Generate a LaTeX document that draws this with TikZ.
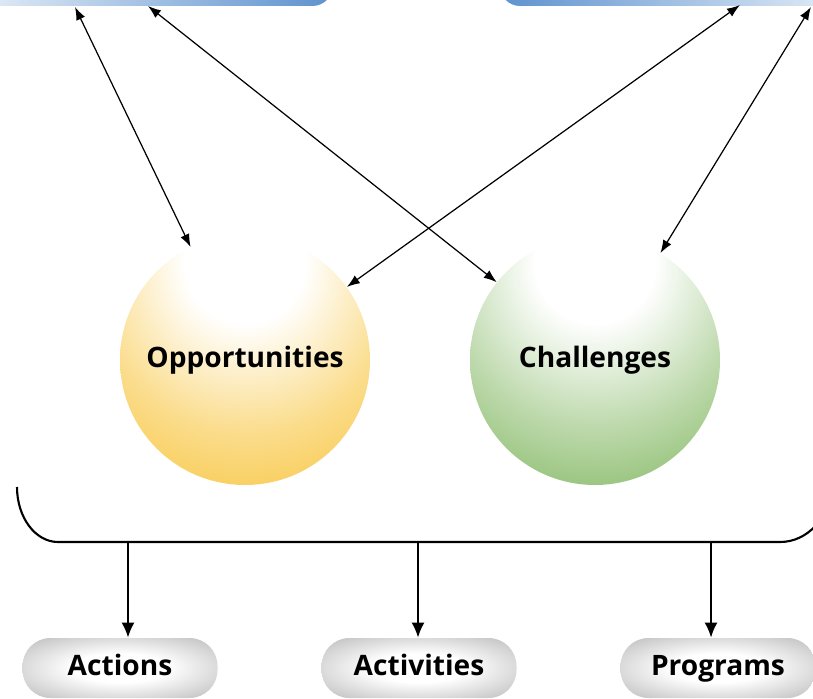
\documentclass[tikz,border=0pt]{standalone}
\usepackage{fontspec}
\setmainfont{Open Sans}
\usetikzlibrary{arrows.meta}
\definecolor{oppyellow}{HTML}{F7C02E}
\definecolor{chalgreen}{HTML}{74AF50}
\definecolor{boxblue}{HTML}{5E92CE}
\definecolor{boxlight}{HTML}{E2ECF7}
\definecolor{pillgray}{HTML}{A4A4A4}
\colorlet{oppmid}{oppyellow!55!white}
\colorlet{chalmid}{chalgreen!50!white}
\pgfdeclareradialshading{oppshade}{\pgfpoint{0bp}{22bp}}{color(0bp)=(white); color(12bp)=(white); color(30bp)=(oppmid); color(50bp)=(oppyellow); color(100bp)=(oppyellow)}
\pgfdeclareradialshading{chalshade}{\pgfpoint{0bp}{22bp}}{color(0bp)=(white); color(12bp)=(white); color(30bp)=(chalmid); color(50bp)=(chalgreen); color(100bp)=(chalgreen)}
\pgfdeclareradialshading{pillshade}{\pgfpoint{0bp}{0bp}}{color(0bp)=(white); color(12bp)=(white); color(44bp)=(pillgray); color(80bp)=(pillgray)}
\tikzset{
  topbox/.style={rounded corners=0.4cm, minimum height=1.32cm, inner sep=0pt},
  bubble/.style={circle, minimum size=5cm, inner sep=0pt, shade, font=\fontsize{16}{19}\selectfont\bfseries},
  pill/.style={rounded corners=0.56cm, minimum width=3.9cm, minimum height=1.2cm, inner sep=0pt, text height=12pt, text depth=4pt, shade, shading=pillshade, font=\fontsize{16}{19}\selectfont\bfseries},
  biarrow/.style={<->, >={Latex[length=2.6mm,width=1.9mm]}, line width=0.7pt},
  downarrow/.style={->, >={Latex[length=3mm,width=2.6mm]}, line width=1.1pt}
}
\begin{document}
\begin{tikzpicture}
    \useasboundingbox (0,0) rectangle (16.26,13.96);
    \clip (0,0) rectangle (16.26,13.96);
    \node[topbox, minimum width=7.06cm, left color=boxlight, right color=boxblue] (lbox) at (3.12,14.5) {};
    \node[topbox, minimum width=6.8cm, left color=boxblue, right color=boxlight] (rbox) at (13.4,14.5) {};
    \coordinate (l1) at (1.5,13.82);
    \coordinate (l2) at (2.96,13.84);
    \coordinate (r1) at (14.8,13.86);
    \coordinate (r2) at (16.22,13.82);
    \node[bubble, shading=oppshade] (opp) at (4.9,6.76) {Opportunities};
    \node[bubble, shading=chalshade] (chal) at (11.9,6.76) {Challenges};
    \draw[biarrow] (l1) -- (opp);
    \draw[biarrow] (l2) -- (chal);
    \draw[biarrow] (r1) -- (opp);
    \draw[biarrow] (r2) -- (chal);
    \draw[line width=1.2pt] (0.34,4.22) arc[start angle=180, end angle=270, x radius=0.82, y radius=1.1]
        -- (15.6,3.12) arc[start angle=270, end angle=360, x radius=1, y radius=1.1];
    \coordinate (b1) at (2.56,3.12);
    \coordinate (b2) at (8.36,3.12);
    \coordinate (b3) at (14.22,3.12);
    \node[pill] (act) at (2.4,0.6) {Actions};
    \node[pill] (actv) at (8.38,0.6) {Activities};
    \node[pill] (prog) at (14.36,0.6) {Programs};
    \draw[downarrow] (b1) -- (b1 |- act.north);
    \draw[downarrow] (b2) -- (b2 |- actv.north);
    \draw[downarrow] (b3) -- (b3 |- prog.north);
\end{tikzpicture}
\end{document}
